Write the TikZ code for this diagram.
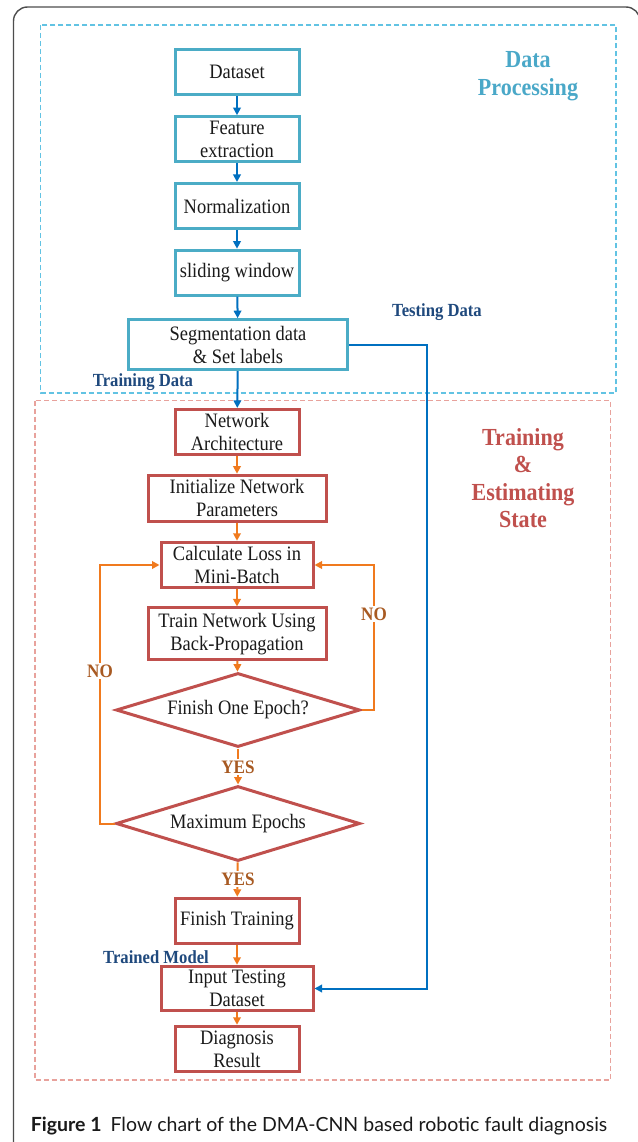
\documentclass[tikz,border=0pt]{standalone}
\usepackage{fontspec}
\setmainfont{Liberation Serif}[FakeStretch=0.9]
\newfontfamily\capfont{Lato}
\usetikzlibrary{shapes.geometric,arrows.meta}
\definecolor{boxblue}{HTML}{4BACC6}
\definecolor{arrowblue}{HTML}{0070C0}
\definecolor{dashblue}{HTML}{62C3E3}
\definecolor{boxred}{HTML}{C0504D}
\definecolor{arroworange}{HTML}{F07A1E}
\definecolor{dashred}{HTML}{E8A29C}
\definecolor{yesno}{HTML}{A85A22}
\definecolor{labelblue}{HTML}{1F497D}
\definecolor{titleblue}{HTML}{4AA8C8}
\definecolor{titlered}{HTML}{C0504D}
\definecolor{framegray}{HTML}{4D4D4D}
\definecolor{txt}{HTML}{1A1A1A}
\begin{document}
\begin{tikzpicture}[x=1pt,y=-1pt,
  boxtext/.style={font=\fontsize{20.5}{23}\selectfont, text=txt, align=center, inner sep=0pt},
  bbox/.style={boxtext, draw=boxblue, line width=3pt, fill=white, minimum width=124pt, minimum height=45pt},
  rbox/.style={boxtext, draw=boxred, line width=3pt, fill=white, minimum width=124pt, minimum height=45.5pt},
  rdia/.style={boxtext, diamond, aspect=3.3, draw=boxred, line width=3pt, fill=white, minimum width=244pt, minimum height=74pt},
  barrow/.style={draw=arrowblue, line width=2pt, -{Triangle[length=7.5pt,width=7.5pt]}},
  oarrow/.style={draw=arroworange, line width=2pt, -{Triangle[length=7.5pt,width=7.5pt]}},
  lbl/.style={font=\bfseries\fontsize{18.5}{20}\selectfont, text=labelblue, inner sep=1pt},
  yn/.style={font=\bfseries\fontsize{19}{20}\selectfont, text=yesno, fill=white, inner sep=1.5pt},
  title/.style={font=\bfseries\fontsize{24.5}{27.5}\selectfont, align=center, inner sep=0pt}
]
\useasboundingbox (0,0) rectangle (637,1142);
\fill[white] (0,0) rectangle (637,1142);
% outer frame
\draw[framegray, line width=1.4pt, rounded corners=14pt] (13.5,1160) -- (13.5,7) -- (640,7) -- (640,40);
% dashed regions
\draw[dashblue, line width=1.2pt, dash pattern=on 5pt off 3pt] (40.6,25) rectangle (616,393);
\draw[dashred, line width=1.2pt, dash pattern=on 5pt off 3pt] (35,400.7) rectangle (610.5,1080);
% titles
\node[title, text=titleblue] (tdp) at (528,76) {Data\\Processing};
\node[title, text=titlered] (tte) at (523,478) {Training\\\&\\Estimating\\State};
% coordinates for connector routes
\coordinate (tx) at (427,0);
\coordinate (lx) at (100,0);
\coordinate (rx) at (374,0);
% data processing boxes
\node[bbox] (ds) at (237,72.3) {Dataset};
\node[bbox] (fe) at (237,139.2) {Feature\\extraction};
\node[bbox] (nm) at (237,206) {Normalization};
\node[bbox] (sw) at (237,272.7) {sliding window};
\node[bbox, minimum width=219.5pt, minimum height=50pt] (seg) at (238,344.7) {Segmentation data\\\& Set labels};
% training boxes
\node[rbox] (na) at (237,432.2) {Network\\Architecture};
\node[rbox, minimum width=178pt, minimum height=46pt] (init) at (237,498.2) {Initialize Network\\Parameters};
\node[rbox, minimum width=152pt] (calc) at (237,565) {Calculate Loss in\\Mini-Batch};
\node[rbox, minimum width=178pt, minimum height=51.5pt] (train) at (237,633.7) {Train Network Using\\Back-Propagation};
\node[rdia] (d1) at (238,710) {Finish One Epoch?};
\node[rdia, minimum height=75pt] (d2) at (238,823.5) {Maximum Epochs};
\node[rbox] (ft) at (237,921) {Finish Training};
\node[rbox, minimum width=152pt, minimum height=44.5pt] (it) at (237,988.5) {Input Testing\\Dataset};
\node[rbox] (dr) at (237,1049) {Diagnosis\\Result};
% blue arrows
\draw[barrow] (ds) -- (fe);
\draw[barrow] (fe) -- (nm);
\draw[barrow] (nm) -- (sw);
\draw[barrow] (sw) -- (seg);
\draw[barrow] (seg) -- (na);
\draw[barrow] (seg.east) -- (seg.east -| tx) |- (it.east);
% orange arrows
\draw[oarrow] (na) -- (init);
\draw[oarrow] (init) -- (calc);
\draw[oarrow] (calc) -- (train);
\draw[oarrow] (train) -- (d1);
\draw[oarrow] (d1) -- (d2);
\draw[oarrow] (d2) -- (ft);
\draw[oarrow] (ft) -- (it);
\draw[oarrow] (it) -- (dr);
\draw[oarrow] (d1.east) -- (d1.east -| rx) |- (calc.east);
\draw[oarrow] (d2.west) -- (d2.west -| lx) |- (calc.west);
% yes / no labels
\node[yn] (yes1) at (238,767) {YES};
\node[yn] (yes2) at (238,879) {YES};
\node[yn] (nor) at (374,614) {NO};
\node[yn] (nol) at (100,671) {NO};
% blue labels
\node[lbl] (ltest) at (437,312) {Testing Data};
\node[lbl] (ltrain) at (143,382) {Training Data};
\node[lbl] (lmodel) at (156,957) {Trained Model};
% caption
\node[anchor=base west, inner sep=0pt, text=txt, font=\capfont\fontsize{19.5}{22}\selectfont] (cap) at (30.7,1131) {\textbf{Figure 1}\hspace{9pt}Flow chart of the DMA-CNN based robotic fault diagnosis};
\end{tikzpicture}
\end{document}
